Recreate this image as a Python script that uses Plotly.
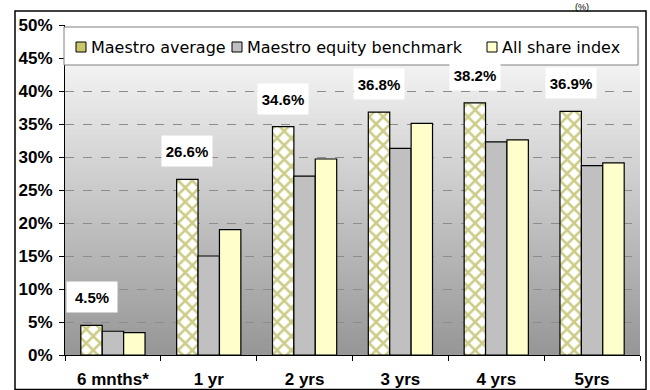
import plotly.graph_objects as go

# ---- data ----
categories = ["6 mnths*", "1 yr", "2 yrs", "3 yrs", "4 yrs", "5yrs"]
series_names = ["Maestro average", "Maestro equity benchmark", "All share index"]
maestro_avg = [4.5, 26.6, 34.6, 36.8, 38.2, 36.9]
equity_bench = [3.6, 15.0, 27.1, 31.3, 32.3, 28.7]
all_share = [3.4, 19.0, 29.7, 35.1, 32.6, 29.1]
y_ticks = [0, 5, 10, 15, 20, 25, 30, 35, 40, 45, 50]
y_tick_labels = [f"{v}%" for v in y_ticks]

# ---- layout geometry (pixels) ----
W, H = 650, 390
L, R, T, B = 65, 10, 25, 35
PW, PH = W - L - R, H - T - B
BARGAP = 0.33
FONT = "Liberation Sans, Arial, sans-serif"
LEGEND_FONT = "DejaVu Sans, Liberation Sans, sans-serif"


def px2x(px):
    return (px - L) / PW


def px2y(py):
    return (H - B - py) / PH


fig = go.Figure()
fig.add_trace(go.Bar(
    x=categories, y=maestro_avg, name=series_names[0],
    marker=dict(color="white", line=dict(color="black", width=1.2),
                pattern=dict(shape="x", fgcolor="#999910", bgcolor="white",
                             size=10, solidity=0.45)),
    showlegend=False))
fig.add_trace(go.Bar(
    x=categories, y=equity_bench, name=series_names[1],
    marker=dict(color="#c0c0c0", line=dict(color="black", width=1.2)),
    showlegend=False))
fig.add_trace(go.Bar(
    x=categories, y=all_share, name=series_names[2],
    marker=dict(color="#ffffcc", line=dict(color="black", width=1.2)),
    showlegend=False))

shapes = []
# gradient plot background
n = 60
for i in range(n):
    f = (i + 0.5) / n  # 0 at bottom, 1 at top
    g = int(round(150 + 105 * f))
    shapes.append(dict(type="rect", xref="x domain", yref="y domain",
                       x0=0, x1=1, y0=i / n, y1=(i + 1) / n + 0.002,
                       fillcolor=f"rgb({g},{g},{g})", line=dict(width=0),
                       layer="below"))
# outer chart border
shapes.append(dict(type="rect", xref="paper", yref="paper",
                   x0=px2x(15), x1=px2x(646), y0=px2y(389.5), y1=px2y(11),
                   line=dict(color="black", width=1.5), fillcolor="rgba(0,0,0,0)",
                   layer="above"))
# legend box
shapes.append(dict(type="rect", xref="paper", yref="paper",
                   x0=px2x(64), x1=px2x(638), y0=px2y(65), y1=px2y(27),
                   line=dict(color="#808080", width=1), fillcolor="white",
                   layer="above"))

annotations = []
# manual legend
legend_fill = ["#c8c86a", "#c0c0c0", "#ffffcc"]
sym_px = [76, 232, 487]
for name, fc, sx in zip(series_names, legend_fill, sym_px):
    shapes.append(dict(type="rect", xref="paper", yref="paper",
                       x0=px2x(sx), x1=px2x(sx + 10), y0=px2y(52), y1=px2y(42),
                       line=dict(color="black", width=1), fillcolor=fc,
                       layer="above"))
    annotations.append(dict(xref="paper", yref="paper", x=px2x(sx + 13), y=px2y(47),
                            xanchor="left", yanchor="middle", showarrow=False,
                            text=name, font=dict(family=LEGEND_FONT, size=16, color="black")))

# data labels for Maestro average
bar_w = (1 - BARGAP) / 3
for i, v in enumerate(maestro_avg):
    annotations.append(dict(xref="x", yref="y", x=i - bar_w, y=v, yshift=28,
                            xanchor="center", yanchor="middle", showarrow=False,
                            text=f"<b>{v:.1f}%</b>", bgcolor="white",
                            width=44, height=24, borderpad=3,
                            font=dict(family=FONT, size=15, color="black")))

# small unit text at the top
annotations.append(dict(xref="paper", yref="paper", x=px2x(582), y=px2y(0),
                        xanchor="center", yanchor="top", showarrow=False,
                        text="(%)", font=dict(family=FONT, size=9, color="black")))

fig.update_layout(
    width=W, height=H,
    margin=dict(l=L, r=R, t=T, b=B, pad=0),
    paper_bgcolor="white", plot_bgcolor="rgba(0,0,0,0)",
    barmode="group", bargap=BARGAP, bargroupgap=0,
    shapes=shapes, annotations=annotations,
    showlegend=False,
    xaxis=dict(type="category", showline=True, linecolor="black", linewidth=1.2,
               ticks="outside", tickson="boundaries", ticklen=5, tickcolor="black",
               showgrid=False, ticklabelstandoff=8, automargin=False,
               tickfont=dict(family=FONT, size=17, color="black", weight="bold")),
    yaxis=dict(range=[0, 50], tickvals=y_ticks, ticktext=y_tick_labels,
               showline=True, linecolor="black", linewidth=1.2,
               ticks="outside", ticklen=5, tickcolor="black",
               showgrid=True, gridcolor="#8c8c8c", griddash="dash", gridwidth=1,
               zeroline=False, ticklabelstandoff=3, automargin=False,
               tickfont=dict(family=FONT, size=17, color="black", weight="bold")),
)

fig.write_html("out.html")
